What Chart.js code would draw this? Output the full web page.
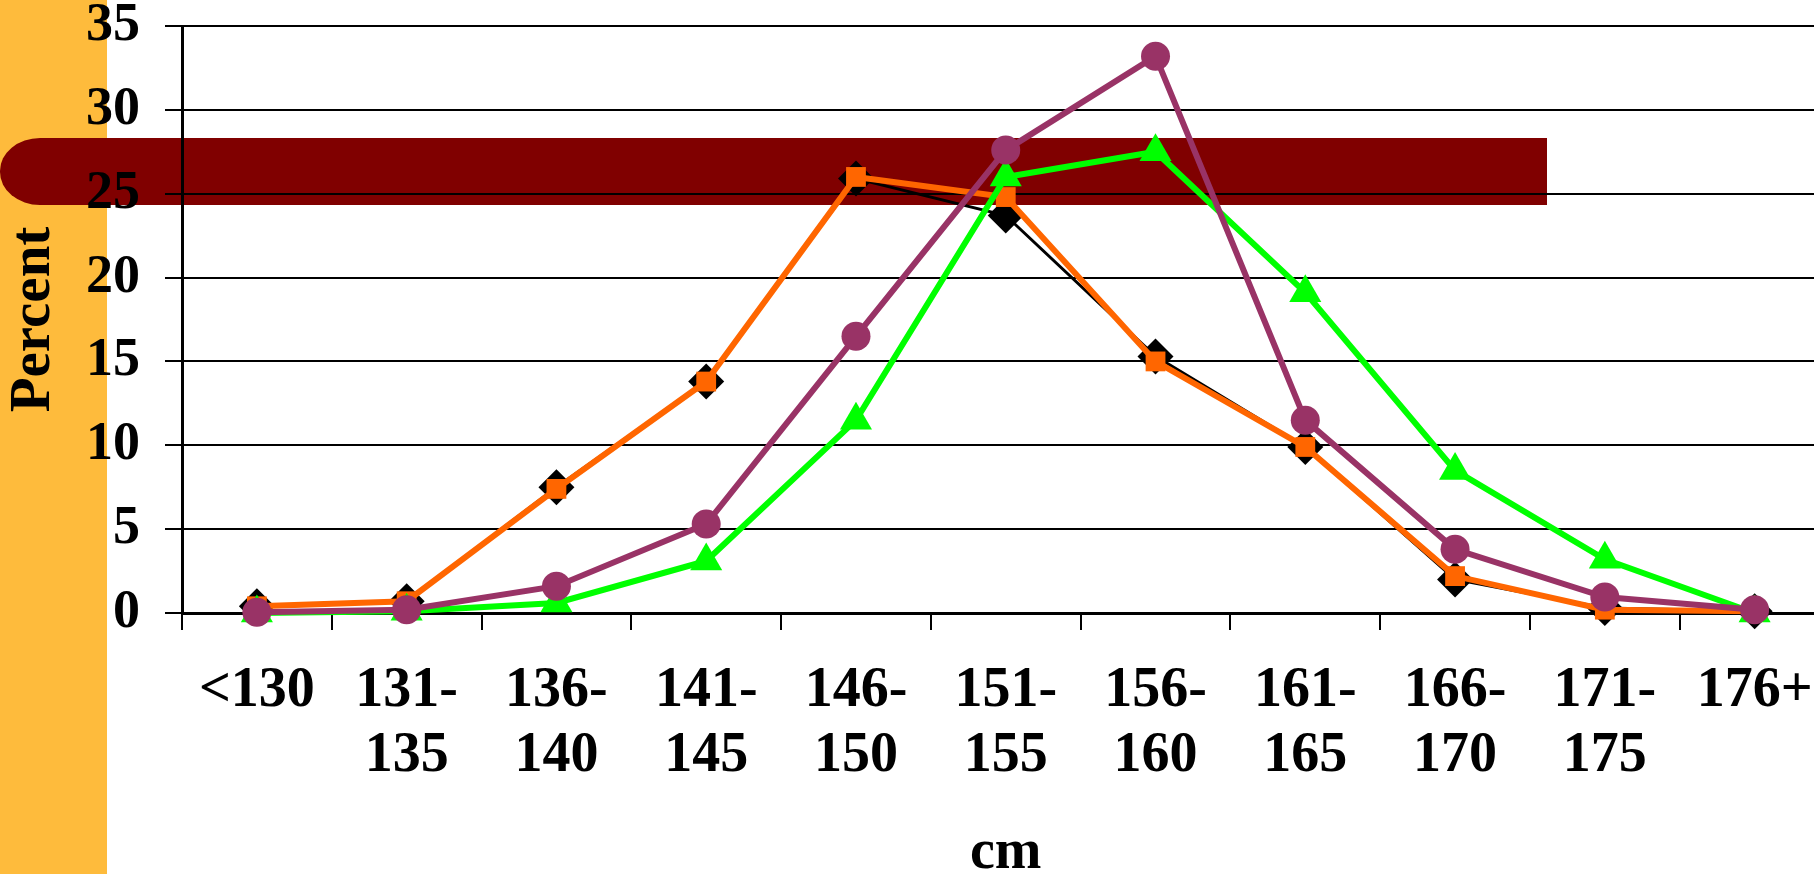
<!DOCTYPE html>
<html>
<head>
<meta charset="utf-8">
<title>Height distribution</title>
<script src="https://cdn.jsdelivr.net/npm/chart.js@4.4.1/dist/chart.umd.min.js"></script>
<style>
  html, body { margin: 0; padding: 0; background: #fff; }
  #stage { position: relative; width: 1814px; height: 874px; overflow: hidden; background: #fff; }
  #strip { position: absolute; left: 0; top: 0; width: 107px; height: 874px; background: #FEBB3C; }
  #band { position: absolute; left: 0; top: 138px; width: 1547px; height: 67px; background: #800000;
          border-radius: 40px 0 0 40px / 33px 0 0 33px; }
  /* chart is wider than the slide: the last category runs off the right edge */
  #wrap { position: absolute; left: 0; top: 0; width: 1848px; height: 890px; }
</style>
</head>
<body>
<div id="stage">
  <div id="strip"></div>
  <div id="band"></div>
  <div id="wrap"><canvas id="chart" width="1848" height="890"></canvas></div>
</div>
<script>
// height groups (cm)
const categories = [
  '<130', ['131-', '135'], ['136-', '140'], ['141-', '145'], ['146-', '150'], ['151-', '155'],
  ['156-', '160'], ['161-', '165'], ['166-', '170'], ['171-', '175'], '176+'
];

// percent per group
const seriesBlack  = [0.4, 0.7, 7.5, 13.8, 25.9, 23.7, 15.3, 9.9, 2.0, 0.3, 0.1];
const seriesOrange = [0.4, 0.7, 7.4, 13.8, 26.0, 24.8, 15.0, 9.9, 2.2, 0.2, 0.1];
const seriesPurple = [0.05, 0.2, 1.6, 5.3, 16.5, 27.6, 33.2, 11.5, 3.8, 0.95, 0.2];
const seriesGreen  = [0.0, 0.1, 0.6, 3.1, 11.5, 26.0, 27.5, 19.1, 8.5, 3.2, 0.0];

const yTicks = [0, 5, 10, 15, 20, 25, 30, 35];

const FONT = 'Liberation Serif, Times New Roman, serif';
Chart.defaults.font.family = FONT;
Chart.defaults.font.weight = 'bold';
Chart.defaults.color = '#000';

const ctx = document.getElementById('chart').getContext('2d');

const chart = new Chart(ctx, {
  type: 'line',
  data: {
    labels: categories,
    datasets: [
      {
        label: 'Series 1',
        data: seriesBlack,
        borderColor: '#000000',
        backgroundColor: '#000000',
        borderWidth: 3,
        pointStyle: 'rectRot',
        pointRadius: 18,
        pointBorderWidth: 0,
        order: 4
      },
      {
        label: 'Series 2',
        data: seriesOrange,
        borderColor: '#FF6600',
        backgroundColor: '#FF6600',
        borderWidth: 6,
        pointStyle: 'rect',
        pointRadius: 14,
        pointBorderWidth: 0,
        order: 3
      },
      {
        label: 'Series 3',
        data: seriesGreen,
        borderColor: '#00FF00',
        backgroundColor: '#00FF00',
        borderWidth: 6,
        pointStyle: 'triangle',
        pointRadius: 18.5,
        pointBorderWidth: 0,
        order: 2
      },
      {
        label: 'Series 4',
        data: seriesPurple,
        borderColor: '#993366',
        backgroundColor: '#993366',
        borderWidth: 6,
        pointStyle: 'circle',
        pointRadius: 14.5,
        pointBorderWidth: 0,
        order: 1
      }
    ]
  },
  options: {
    responsive: false,
    animation: false,
    elements: { line: { tension: 0, fill: false } },
    layout: { padding: { top: 26, right: 2, bottom: 0, left: 0 } },
    plugins: {
      legend: { display: false },
      tooltip: { enabled: false }
    },
    datasets: { line: { clip: false } },
    scales: {
      x: {
        type: 'category',
        offset: true,
        grid: {
          offset: true,
          drawOnChartArea: false,
          drawTicks: true,
          tickLength: 17,
          color: '#000',
          lineWidth: 2
        },
        border: { display: true, color: '#000', width: 3 },
        ticks: {
          autoSkip: false,
          maxRotation: 0,
          padding: 29,
          color: '#000',
          font: { family: FONT, size: 56, weight: 'bold', lineHeight: 1.16 }
        },
        title: {
          display: true,
          text: 'cm',
          color: '#000',
          font: { family: FONT, size: 56, weight: 'bold', lineHeight: 1.2 },
          padding: { top: 0, bottom: 3 }
        },
        afterFit: function (scale) {
          scale.height = 890 - 613;
          scale.paddingTop = 0;
          scale.paddingBottom = 0;
          scale.paddingLeft = 0;
          scale.paddingRight = 0;
        }
      },
      y: {
        min: 0,
        max: 35,
        grid: {
          color: '#000',
          lineWidth: 2,
          drawTicks: true,
          tickLength: 17
        },
        border: { display: true, color: '#000', width: 3 },
        afterBuildTicks: function (scale) {
          scale.ticks = yTicks.map(v => ({ value: v }));
        },
        ticks: {
          padding: 25,
          color: '#000',
          font: { family: FONT, size: 54, weight: 'bold', lineHeight: 0.9 }
        },
        title: {
          display: true,
          text: 'Percent',
          color: '#000',
          font: { family: FONT, size: 57, weight: 'bold', lineHeight: 1.2 },
          padding: { top: 0, bottom: 0 }
        },
        afterFit: function (scale) {
          scale.width = 182;
          scale.paddingTop = 0;
          scale.paddingBottom = 0;
        }
      }
    }
  }
});
</script>
</body>
</html>
